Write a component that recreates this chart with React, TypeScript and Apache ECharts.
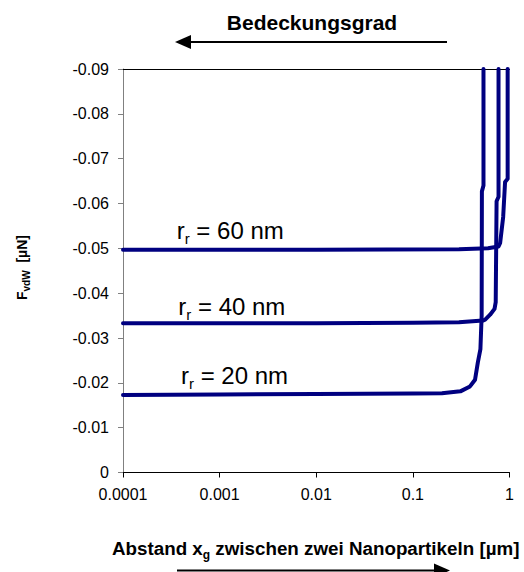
import React, { useEffect, useRef } from "react";
import * as echarts from "echarts";

// ---- data ----
const radiiLabels = ["20 nm", "40 nm", "60 nm"];
const r20: [number, number][] = [
  [0.0001, -0.0173], [0.001, -0.0174], [0.01, -0.0175], [0.1, -0.0176], [0.2, -0.0177],
  [0.31, -0.0181], [0.39, -0.0192], [0.44, -0.0207], [0.47, -0.0245], [0.5, -0.0275],
  [0.515, -0.035], [0.518, -0.0627], [0.538, -0.064], [0.538, -0.09],
];
const r40: [number, number][] = [
  [0.0001, -0.0333], [0.01, -0.0333], [0.1, -0.0334], [0.3, -0.0335], [0.53, -0.0339],
  [0.56, -0.0341], [0.63, -0.0352], [0.7, -0.0365], [0.72, -0.038], [0.735, -0.0605],
  [0.77, -0.0615], [0.77, -0.09],
];
const r60: [number, number][] = [
  [0.0001, -0.0497], [0.01, -0.0497], [0.3, -0.0498], [0.6, -0.05], [0.77, -0.0504],
  [0.8, -0.0512], [0.86, -0.057], [0.9, -0.0648], [0.957, -0.0655], [0.957, -0.09],
];
const xMin = 0.0001;
const xMax = 1;
const yMin = -0.09;
const yMax = 0;
const yStep = 0.01;

const FONT = "'Liberation Sans', Arial, Helvetica, sans-serif";

export default function App() {
  const ref = useRef<HTMLDivElement>(null);
  useEffect(() => {
    const el = ref.current!;
    const chart = echarts.init(el, null, { renderer: "svg" });
    const ctx = document.createElement("canvas").getContext("2d")!;
    const mw = (t: string, size: number, bold: boolean) => {
      ctx.font = `${bold ? "bold " : ""}${size}px ${FONT}`;
      return ctx.measureText(t).width;
    };
    const txt = (x: number, y: number, s: string, size: number, bold = false, align = "left") => ({
      type: "text",
      x,
      y,
      style: {
        text: s,
        fontSize: size,
        fontWeight: bold ? "bold" : "normal",
        fontFamily: FONT,
        fill: "#000",
        textAlign: align,
        textVerticalAlign: "middle",
      },
    });
    const mid = (baseline: number, size: number) => baseline - 0.3465 * size;

    const graphics: any[] = [];
    graphics.push(txt(312, mid(29.3, 21), "Bedeckungsgrad", 21, true, "center"));
    graphics.push({ type: "line", shape: { x1: 189, y1: 42, x2: 447, y2: 42 }, style: { stroke: "#000", lineWidth: 2 } });
    graphics.push({ type: "polygon", shape: { points: [[175, 42], [191, 35], [191, 49]] }, style: { fill: "#000" } });
    graphics.push({ type: "line", shape: { x1: 177, y1: 570.5, x2: 436, y2: 570.5 }, style: { stroke: "#000", lineWidth: 2 } });
    graphics.push({ type: "polygon", shape: { points: [[450, 570.5], [434, 563.5], [434, 577.5]] }, style: { fill: "#000" } });

    {
      const fs = 18.8, sfs = 12, base = 555;
      let x = 112;
      const a = "Abstand x";
      graphics.push(txt(x, mid(base, fs), a, fs, true));
      x += mw(a, fs, true);
      graphics.push(txt(x, mid(base + 4, sfs), "g", sfs, true));
      x += mw("g", sfs, true) + mw(" ", fs, true);
      graphics.push(txt(x, mid(base, fs), "zwischen zwei Nanopartikeln [µm]", fs, true));
    }

    {
      const fs = 14, sfs = 10;
      const children: any[] = [];
      let lx = 0;
      children.push(txt(lx, 0, "F", fs, true));
      lx += mw("F", fs, true);
      children.push(txt(lx, 4, "vdW", sfs, true));
      lx += mw("vdW", sfs, true) + 2 * mw(" ", fs, true);
      children.push(txt(lx, 0, "[µN]", fs, true));
      graphics.push({ type: "group", x: 22, y: 300, rotation: Math.PI / 2, children });
    }

    const labelPos: [number, number][] = [[181, 384], [178.3, 315], [176.7, 239]];
    radiiLabels.forEach((lab, i) => {
      const [x0, base] = labelPos[i];
      const fs = 24, sfs = 15;
      let x = x0;
      graphics.push(txt(x, mid(base, fs), "r", fs));
      x += mw("r", fs, false);
      graphics.push(txt(x, mid(base + 5, sfs), "r", sfs));
      x += mw("r", sfs, false) + mw(" ", fs, false);
      graphics.push(txt(x, mid(base, fs), "= " + lab, fs));
    });

    const lineSeries = [r20, r40, r60].map((d, i) => ({
      type: "line",
      name: "r_r = " + radiiLabels[i],
      data: d,
      showSymbol: false,
      symbol: "none",
      xAxisIndex: 0,
      lineStyle: { color: "#000080", width: 4, join: "round", cap: "round" },
      itemStyle: { color: "#000080" },
      clip: true,
    }));

    chart.setOption({
      animation: false,
      backgroundColor: "#fff",
      grid: { left: 123, top: 69, width: 386.5, height: 403.5, containLabel: false },
      xAxis: [
        {
          type: "log",
          logBase: 10,
          min: xMin,
          max: xMax,
          position: "bottom",
          axisLine: { show: true, onZero: false, lineStyle: { color: "#000", width: 1 } },
          axisTick: { show: true, length: 5, lineStyle: { color: "#000" } },
          minorTick: { show: false },
          splitLine: { show: false },
          axisLabel: {
            margin: 14,
            fontSize: 16,
            color: "#000",
            fontFamily: FONT,
            formatter: (v: number) => String(Number(v.toPrecision(1))),
          },
        },
        {
          type: "value",
          min: 0,
          max: 1,
          position: "top",
          axisLine: { show: true, onZero: false, lineStyle: { color: "#000", width: 1 } },
          axisTick: { show: false },
          axisLabel: { show: false },
          splitLine: { show: false },
        },
      ],
      yAxis: {
        type: "value",
        inverse: true,
        min: yMin,
        max: yMax,
        interval: yStep,
        axisLine: { show: true, onZero: false, lineStyle: { color: "#808080", width: 1 } },
        axisTick: { show: true, length: 5, lineStyle: { color: "#808080" } },
        splitLine: { show: false },
        axisLabel: {
          margin: 14,
          fontSize: 16,
          color: "#000",
          fontFamily: FONT,
          formatter: (v: number) => (Math.abs(v) < 1e-9 ? "0" : v.toFixed(2)),
        },
      },
      series: lineSeries,
      graphic: graphics,
    });
    return () => chart.dispose();
  }, []);
  return (
    <div
      ref={ref}
      style={{ position: "fixed", left: 0, top: 0, width: 524, height: 572, background: "#fff" }}
    />
  );
}
